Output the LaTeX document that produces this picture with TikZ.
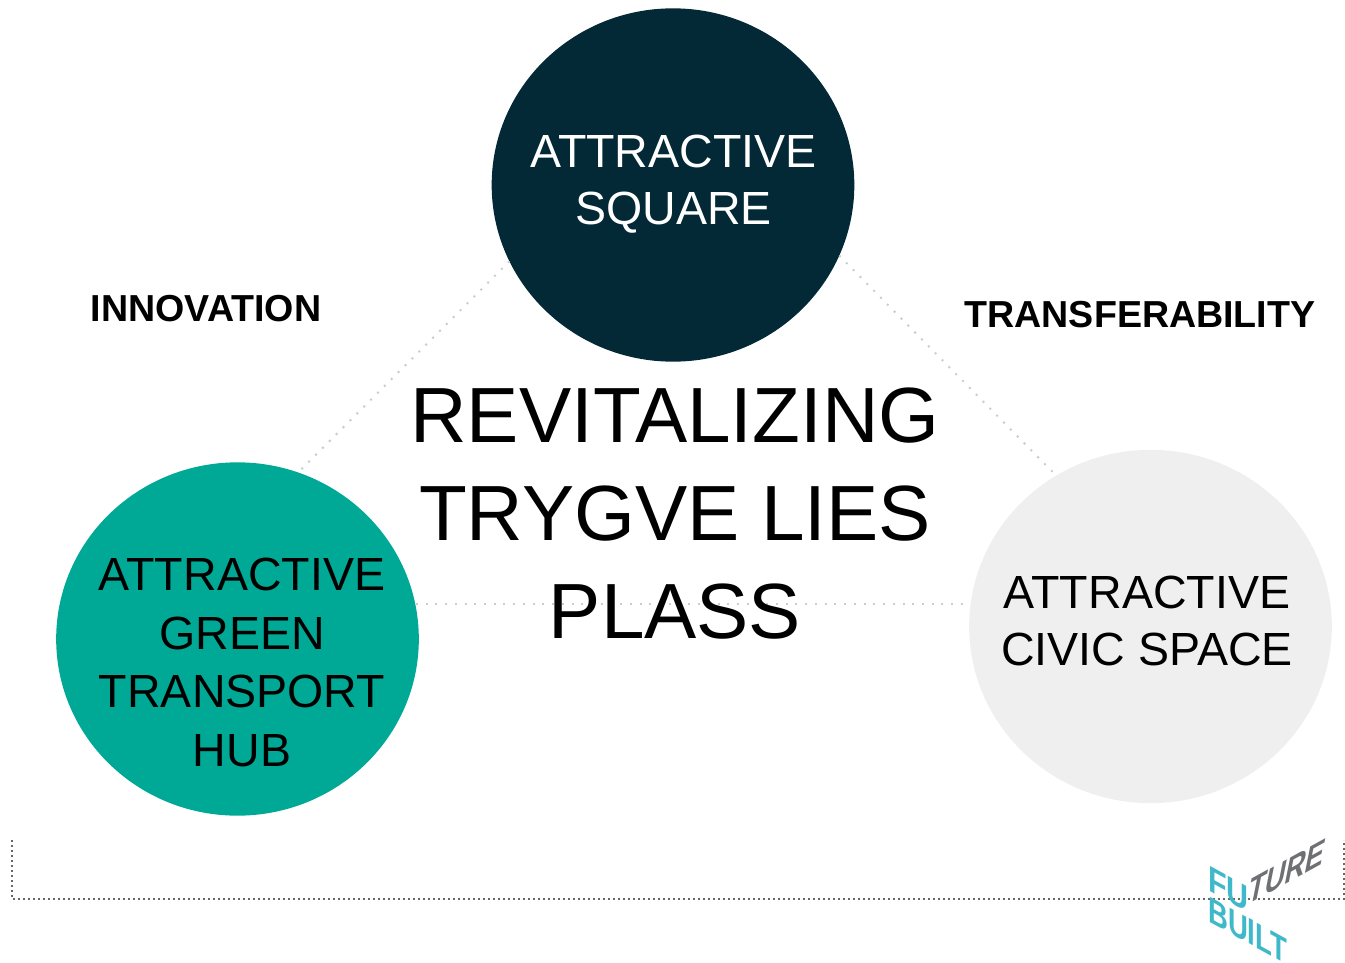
\documentclass[tikz,border=0pt]{standalone}
\usepackage{fontspec}
\usetikzlibrary{shapes.geometric}
\setmainfont{Liberation Sans}
\definecolor{navy}{HTML}{032836}
\definecolor{teal}{HTML}{00A996}
\definecolor{pale}{HTML}{EFEFEF}
\definecolor{cy}{HTML}{3FB8C9}
\definecolor{gr}{HTML}{6F7073}
\tikzset{
 x=0.75pt,y=-0.75pt,
 disc/.style={ellipse,minimum width=272pt,minimum height=265pt,inner sep=0,outer sep=0},
 clabel/.style={align=center,font=\fontsize{34.9}{43}\selectfont,inner sep=0},
 huglabel/.style={align=center,font=\fontsize{34.9}{44}\selectfont,inner sep=0},
 title/.style={align=center,font=\fontsize{58.7}{73.5}\selectfont,inner sep=0},
 side/.style={font=\fontsize{28.2}{32}\selectfont\bfseries,inner sep=0},
 link/.style={draw=black!20,line width=1.5pt,dash pattern=on 1.5pt off 5.8pt},
 frameline/.style={draw=black!60,line width=1pt,dash pattern=on 1.6pt off 2.15pt},
 logo/.style={font=\fontsize{27.5}{27.5}\selectfont\bfseries,inner sep=0,transform shape,anchor=base west}
}
\begin{document}
\begin{tikzpicture}
\useasboundingbox (0,0) rectangle (1345,963);
\node[disc,fill=navy] (sq) at (673,185) {};
\node[disc,fill=teal] (hub) at (237.5,639) {};
\node[disc,fill=pale] (civ) at (1150.5,626.5) {};
\draw[link] (sq.205) -- (hub.70);
\draw[link] (sq.337) -- (civ.122);
\draw[link] (hub.east |- 0,604) ++(-3,0) coordinate (la) -- (civ.west |- la);
\coordinate (fa) at (12,840);
\coordinate (fb) at (12,899);
\coordinate (fc) at (1344,899);
\coordinate (fd) at (1344,840);
\draw[frameline] (fa) -- (fb) -- (fc) -- (fd);
\node[clabel,text=white] (sqt) at (673.5,184) {ATTRACTIVE\\SQUARE};
\node[huglabel,text=black] (hubt) at (242,662.5) {ATTRACTIVE\\GREEN\\TRANSPORT\\HUB};
\node[clabel,text=black] (civt) at (1147,621) {ATTRACTIVE\\CIVIC SPACE};
\node[title] (main) at (675,514) {REVITALIZING\\TRYGVE LIES\\PLASS};
\node[side] (inn) at (206,309) {INNOVATION};
\node[side] (tra) at (1140,315) {TRANSFERABILITY};
\node[logo,text=cy,yslant=-0.55,xscale=0.83] (fu) at (1208,890) {FU};
\node[logo,text=gr,xslant=0.2,yslant=0.62,xscale=0.68,yscale=1.05] (tu) at (1246,906) {TURE};
\node[logo,text=cy,yslant=-0.55,xscale=0.75] (bu) at (1208,921) {BUILT};
\end{tikzpicture}
\end{document}
